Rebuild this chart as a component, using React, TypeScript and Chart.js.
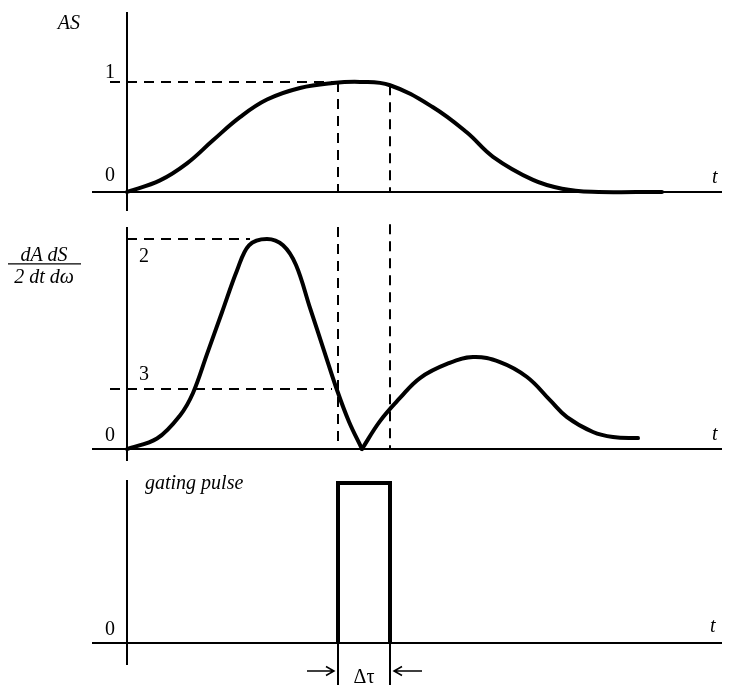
import { useEffect, useRef } from 'react';
import { Chart, registerables } from 'chart.js';

Chart.register(...registerables);

const SERIF = '"Liberation Serif", "Times New Roman", serif';
const INK = '#000';

// time axis, t = 0 sits on the vertical axis
const T_RANGE = [-3.5, 59.5];
// edges of the gating window (shared by all three panels)
const GATE_EDGES = [21.1, 26.3];

// panel 1: A·S envelope
const AS_T = [0, 3.3, 6, 8.6, 11.3, 14, 17.3, 20.6, 23.3, 26.3, 30.6, 34, 36.6, 40.6, 43.5, 46.5, 53.5];
const AS_V = [0, 0.105, 0.26, 0.47, 0.68, 0.84, 0.945, 0.99, 1.0, 0.97, 0.77, 0.54, 0.32, 0.11, 0.03, 0.002, 0];
const AS_LEVEL = 1;
const AS_AT_EDGES = [1.0, 0.97];

// panel 2: (dA/dt)(dS/dω)/2, split at the cusp
const RISE_T = [0, 3, 5.3, 6.6, 8, 9.5, 11, 12.2, 14, 15.6, 16.9, 18.3, 19.7, 21, 22.2, 23.5];
const RISE_V = [0, 0.05, 0.16, 0.267, 0.452, 0.651, 0.85, 0.97, 1.0, 0.97, 0.876, 0.672, 0.469, 0.281, 0.13, 0];
const TAIL_T = [23.5, 25.3, 27.3, 29.3, 32, 34.6, 37.3, 40, 42.3, 44, 46.6, 48.6, 51.1];
const TAIL_V = [0, 0.133, 0.243, 0.338, 0.405, 0.438, 0.414, 0.343, 0.233, 0.152, 0.081, 0.057, 0.052];
const LEVEL_2 = 1;
const LEVEL_2_END = 12.3;
const LEVEL_3 = 0.286;
const LEVEL_3_END = 20.5;
const DERIV_EDGE_TOPS = [1.057, 1.07];

// panel 3: gating pulse
const PULSE_T = [GATE_EDGES[0], GATE_EDGES[0], GATE_EDGES[1], GATE_EDGES[1]];
const PULSE_V = [0, 1, 1, 0];

const LEAD = -1.7; // dashed guides start a little left of the axis

const pts = (ts: number[], vs: number[]) => ts.map((t, i) => ({ x: t, y: vs[i] }));

const curve = (ts: number[], vs: number[], tension = 0.4) => ({
  data: pts(ts, vs),
  borderColor: INK,
  borderWidth: 4,
  pointRadius: 0,
  tension,
  borderJoinStyle: 'round',
  borderCapStyle: 'round',
  clip: false,
  order: 0,
});

const dashed = (ts: number[], vs: number[]) => ({
  data: pts(ts, vs),
  borderColor: INK,
  borderWidth: 2,
  borderDash: [10, 7],
  pointRadius: 0,
  tension: 0,
  clip: false,
  order: 1,
});

function text(ctx: CanvasRenderingContext2D, s: string, x: number, y: number, align: CanvasTextAlign = 'left', italic = false) {
  ctx.font = `${italic ? 'italic ' : ''}20px ${SERIF}`;
  ctx.textAlign = align;
  ctx.textBaseline = 'alphabetic';
  ctx.fillStyle = INK;
  ctx.fillText(s, x, y);
}

type Decor = (ctx: CanvasRenderingContext2D, px: (t: number) => number, py: (v: number) => number, area: any) => void;

function panelConfig(datasets: any[], yRange: number[], pad: { top: number; bottom: number }, decor: Decor): any {
  return {
    type: 'line',
    data: { datasets },
    options: {
      responsive: false,
      animation: false,
      events: [],
      layout: { padding: { left: 92, right: 15, top: pad.top, bottom: pad.bottom } },
      plugins: { legend: { display: false }, tooltip: { enabled: false } },
      scales: {
        x: { type: 'linear', min: T_RANGE[0], max: T_RANGE[1], display: false },
        y: { type: 'linear', min: yRange[0], max: yRange[1], display: false },
      },
    },
    plugins: [
      {
        id: 'axes',
        beforeDatasetsDraw(chart: Chart) {
          const { ctx, chartArea: a } = chart;
          const x0 = chart.scales.x.getPixelForValue(0);
          const y0 = chart.scales.y.getPixelForValue(0);
          ctx.save();
          ctx.strokeStyle = INK;
          ctx.lineWidth = 2;
          ctx.beginPath();
          ctx.moveTo(a.left, y0);
          ctx.lineTo(a.right, y0);
          ctx.moveTo(x0, a.top);
          ctx.lineTo(x0, a.bottom);
          ctx.stroke();
          ctx.restore();
        },
      },
      {
        id: 'decor',
        afterDatasetsDraw(chart: Chart) {
          const { ctx, chartArea } = chart;
          ctx.save();
          decor(
            ctx,
            (t) => chart.scales.x.getPixelForValue(t),
            (v) => chart.scales.y.getPixelForValue(v),
            chartArea,
          );
          ctx.restore();
        },
      },
    ],
  };
}

const topConfig = () =>
  panelConfig(
    [
      curve(AS_T, AS_V),
      dashed([LEAD, GATE_EDGES[0]], [AS_LEVEL, AS_LEVEL]),
      dashed([GATE_EDGES[0], GATE_EDGES[0]], [AS_AT_EDGES[0], 0]),
      dashed([GATE_EDGES[1], GATE_EDGES[1]], [AS_AT_EDGES[1], 0]),
    ],
    [-0.173, 1.636],
    { top: 12, bottom: 4 },
    (ctx, px, py, area) => {
      const x0 = px(0);
      text(ctx, 'AS', x0 - 47, area.top + 17, 'right', true);
      text(ctx, '1', x0 - 12, py(AS_LEVEL) - 4, 'right');
      text(ctx, '0', x0 - 12, py(0) - 11, 'right');
      text(ctx, 't', area.right - 10, py(0) - 9, 'left', true);
    },
  );

const middleConfig = () =>
  panelConfig(
    [
      curve(RISE_T, RISE_V, 0.35),
      curve(TAIL_T, TAIL_V, 0.4),
      dashed([0, LEVEL_2_END], [LEVEL_2, LEVEL_2]),
      dashed([LEAD, LEVEL_3_END], [LEVEL_3, LEVEL_3]),
      dashed([GATE_EDGES[0], GATE_EDGES[0]], [DERIV_EDGE_TOPS[0], 0]),
      dashed([GATE_EDGES[1], GATE_EDGES[1]], [DERIV_EDGE_TOPS[1], 0]),
    ],
    [-0.057, 1.057],
    { top: 12, bottom: 9 },
    (ctx, px, py, area) => {
      const x0 = px(0);
      const cx = 44;
      const top = py(LEVEL_2);
      text(ctx, 'dA dS', cx, top + 22, 'center', true);
      ctx.strokeStyle = INK;
      ctx.lineWidth = 1.2;
      ctx.beginPath();
      ctx.moveTo(8, top + 25);
      ctx.lineTo(81, top + 25);
      ctx.stroke();
      text(ctx, '2 dt dω', cx, top + 44, 'center', true);
      text(ctx, '2', x0 + 12, top + 23);
      text(ctx, '3', x0 + 12, py(LEVEL_3) - 9);
      text(ctx, '0', x0 - 12, py(0) - 8, 'right');
      text(ctx, 't', area.right - 10, py(0) - 9, 'left', true);
    },
  );

const bottomConfig = () =>
  panelConfig(
    [
      {
        ...curve(PULSE_T, PULSE_V, 0),
        borderJoinStyle: 'miter',
        borderCapStyle: 'butt',
      },
    ],
    [-0.1375, 1.019],
    { top: 10, bottom: 33 },
    (ctx, px, py, area) => {
      const x0 = px(0);
      const y0 = py(0);
      const [xl, xr] = GATE_EDGES.map(px);
      text(ctx, 'gating pulse', x0 + 18, py(1) + 6, 'left', true);
      text(ctx, '0', x0 - 12, y0 - 8, 'right');
      text(ctx, 't', area.right - 12, y0 - 11, 'left', true);
      // Δτ marker below the time axis
      ctx.strokeStyle = INK;
      ctx.lineWidth = 2;
      ctx.beginPath();
      ctx.moveTo(xl, y0);
      ctx.lineTo(xl, y0 + 42);
      ctx.moveTo(xr, y0);
      ctx.lineTo(xr, y0 + 42);
      ctx.stroke();
      const ya = y0 + 28;
      ctx.lineWidth = 1.5;
      ctx.beginPath();
      ctx.moveTo(xl - 31, ya);
      ctx.lineTo(xl - 4, ya);
      ctx.moveTo(xl - 12, ya - 4.5);
      ctx.lineTo(xl - 4, ya);
      ctx.lineTo(xl - 12, ya + 4.5);
      ctx.moveTo(xr + 32, ya);
      ctx.lineTo(xr + 4, ya);
      ctx.moveTo(xr + 12, ya - 4.5);
      ctx.lineTo(xr + 4, ya);
      ctx.lineTo(xr + 12, ya + 4.5);
      ctx.stroke();
      text(ctx, 'Δτ', (xl + xr) / 2, y0 + 40, 'center');
    },
  );

function Panel({ height, build }: { height: number; build: () => any }) {
  const ref = useRef<HTMLCanvasElement>(null);
  useEffect(() => {
    if (!ref.current) return;
    const chart = new Chart(ref.current, build());
    return () => { chart.destroy(); };
  }, [build]);
  return <canvas ref={ref} width={737} height={height} style={{ display: 'block', width: 737, height }} />;
}

export default function App() {
  return (
    <div style={{ position: 'absolute', left: 0, top: 0, width: 737, height: 698, background: '#fff' }}>
      <Panel height={215} build={topConfig} />
      <Panel height={255} build={middleConfig} />
      <Panel height={228} build={bottomConfig} />
    </div>
  );
}
